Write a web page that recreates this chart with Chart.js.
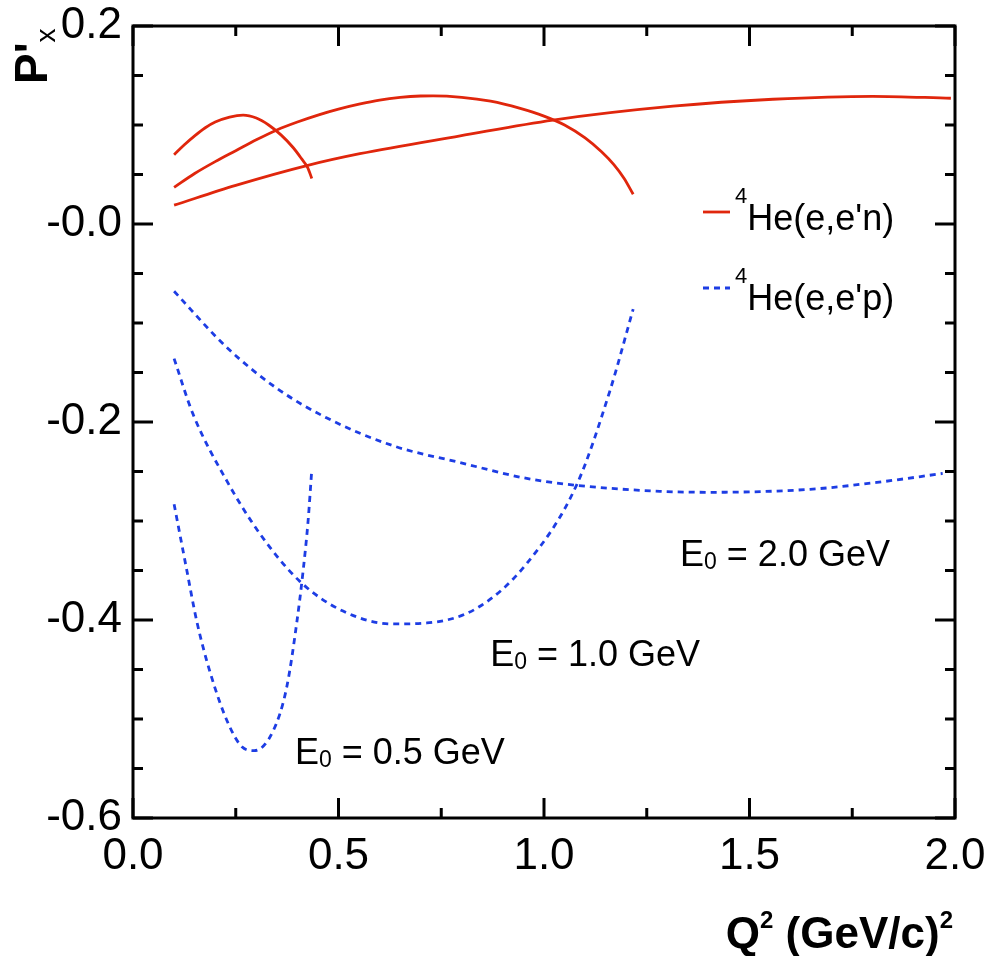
<!DOCTYPE html>
<html>
<head>
<meta charset="utf-8">
<script src="https://cdn.jsdelivr.net/npm/chart.js@4.4.0/dist/chart.umd.min.js"></script>
<style>
  html, body { margin: 0; padding: 0; background: #fff; }
  #wrap { width: 988px; height: 956px; }
</style>
</head>
<body>
<div id="wrap"><canvas id="myChart" width="988" height="956"></canvas></div>
<script>
// values: Q^2 in (GeV/c)^2, P'x
const q2N05 = [0.10, 0.125, 0.15, 0.175, 0.20, 0.235, 0.268, 0.30, 0.33, 0.36, 0.39, 0.41, 0.425, 0.435];
const pxN05 = [0.070, 0.080, 0.089, 0.097, 0.103, 0.108, 0.110, 0.107, 0.100, 0.090, 0.077, 0.066, 0.057, 0.046];

const q2N10 = [0.10, 0.15, 0.20, 0.25, 0.30, 0.35, 0.40, 0.45, 0.50, 0.55, 0.60, 0.65, 0.70, 0.73, 0.80, 0.87, 0.94, 1.00, 1.05, 1.10, 1.14, 1.17, 1.195, 1.217];
const pxN10 = [0.037, 0.051, 0.063, 0.074, 0.085, 0.095, 0.103, 0.110, 0.116, 0.121, 0.1251, 0.1278, 0.1293, 0.1295, 0.128, 0.124, 0.117, 0.109, 0.100, 0.087, 0.073, 0.060, 0.046, 0.030];

const q2N20 = [0.10, 0.25, 0.423, 0.552, 0.796, 1.022, 1.314, 1.557, 1.80, 1.99];
const pxN20 = [0.019, 0.039, 0.059, 0.071, 0.089, 0.105, 0.119, 0.126, 0.129, 0.127];

const q2P05 = [0.10, 0.131, 0.155, 0.187, 0.229, 0.265, 0.295, 0.341, 0.374, 0.399, 0.414, 0.426, 0.435];
const pxP05 = [-0.283, -0.35, -0.401, -0.452, -0.502, -0.528, -0.532, -0.512, -0.468, -0.401, -0.35, -0.30, -0.248];

const q2P10 = [0.10, 0.146, 0.229, 0.309, 0.406, 0.511, 0.633, 0.715, 0.837, 0.958, 1.08, 1.16, 1.217];
const pxP10 = [-0.136, -0.192, -0.26, -0.313, -0.361, -0.391, -0.404, -0.403, -0.388, -0.343, -0.263, -0.169, -0.086];

const q2P20 = [0.10, 0.229, 0.35, 0.472, 0.633, 0.796, 0.958, 1.08, 1.282, 1.404, 1.647, 1.81, 1.97];
const pxP20 = [-0.068, -0.125, -0.166, -0.196, -0.224, -0.241, -0.257, -0.264, -0.270, -0.271, -0.268, -0.261, -0.252];

const energies = ["0.5", "1.0", "2.0"];
const legendLabels = ["He(e,e'n)", "He(e,e'p)"];

const RED = "#e0260c";
const BLUE = "#1d3de4";
const FONT = "'Liberation Sans', Arial, sans-serif";

function pts(xs, ys) {
  return xs.map((x, i) => ({ x: x, y: ys[i] }));
}

function curve(label, xs, ys, color, dashed) {
  return {
    label: label,
    data: pts(xs, ys),
    borderColor: color,
    borderWidth: 2.8,
    borderDash: dashed ? [6, 5] : [],
    pointRadius: 0,
    fill: false,
    cubicInterpolationMode: "monotone",
  };
}

// text with sub/superscripts: parts = [text, font, dy]
function rich(ctx, x, y, parts, align) {
  let w = 0;
  parts.forEach((p) => { ctx.font = p[1]; w += ctx.measureText(p[0]).width; });
  let cx = align === "right" ? x - w : x;
  parts.forEach((p) => {
    ctx.font = p[1];
    ctx.fillText(p[0], cx, y + (p[2] || 0));
    cx += ctx.measureText(p[0]).width;
  });
}

const frame = {
  id: "frame",
  afterDraw(chart) {
    const ctx = chart.ctx;
    const a = chart.chartArea;
    const xs = chart.scales.x, ys = chart.scales.y;
    ctx.save();
    ctx.strokeStyle = "#000";
    ctx.lineWidth = 3;
    ctx.strokeRect(a.left, a.top, a.right - a.left, a.bottom - a.top);

    ctx.beginPath();
    for (let i = 0; i <= 16; i++) {
      const py = ys.getPixelForValue(-0.6 + i * 0.05);
      const len = i % 4 === 0 ? 20 : 10;
      ctx.moveTo(a.left, py); ctx.lineTo(a.left + len, py);
      ctx.moveTo(a.right, py); ctx.lineTo(a.right - len, py);
    }
    for (let i = 0; i <= 8; i++) {
      const px = xs.getPixelForValue(i * 0.25);
      const len = i % 2 === 0 ? 20 : 10;
      ctx.moveTo(px, a.bottom); ctx.lineTo(px, a.bottom - len);
      ctx.moveTo(px, a.top); ctx.lineTo(px, a.top + len);
    }
    ctx.stroke();

    ctx.fillStyle = "#000";
    ctx.textAlign = "left";
    ctx.textBaseline = "alphabetic";

    // x axis title
    rich(ctx, a.right - 2, 948, [
      ["Q", "bold 44px " + FONT],
      ["2", "bold 24px " + FONT, -20],
      [" (GeV/c)", "bold 44px " + FONT],
      ["2", "bold 24px " + FONT, -20],
    ], "right");

    // y axis title (rotated)
    ctx.save();
    ctx.translate(47, 84);
    ctx.rotate(-Math.PI / 2);
    rich(ctx, 0, 0, [
      ["P'", "bold 46px " + FONT],
      ["x", "28px " + FONT, 8],
    ]);
    ctx.restore();

    // legend
    ctx.lineWidth = 2.8;
    ctx.strokeStyle = RED;
    ctx.setLineDash([]);
    ctx.beginPath(); ctx.moveTo(703, 212); ctx.lineTo(730, 212); ctx.stroke();
    ctx.strokeStyle = BLUE;
    ctx.setLineDash([6, 5]);
    ctx.beginPath(); ctx.moveTo(703, 288); ctx.lineTo(730, 288); ctx.stroke();
    ctx.setLineDash([]);
    rich(ctx, 735, 230, [["4", "22px " + FONT, -27], [legendLabels[0], "36px " + FONT]]);
    rich(ctx, 735, 310, [["4", "22px " + FONT, -27], [legendLabels[1], "36px " + FONT]]);

    // beam energy labels, placed in data coordinates
    const notes = [[0.394, -0.545], [0.869, -0.446], [1.331, -0.345]];
    notes.forEach((n, i) => {
      rich(ctx, xs.getPixelForValue(n[0]), ys.getPixelForValue(n[1]), [
        ["E", "36px " + FONT],
        ["0", "23px " + FONT, 3],
        [" = " + energies[i] + " GeV", "36px " + FONT],
      ]);
    });
    ctx.restore();
  },
};

const ctx = document.getElementById("myChart").getContext("2d");

const myChart = new Chart(ctx, {
  type: "line",
  data: {
    datasets: [
      curve("n 0.5", q2N05, pxN05, RED, false),
      curve("n 1.0", q2N10, pxN10, RED, false),
      curve("n 2.0", q2N20, pxN20, RED, false),
      curve("p 0.5", q2P05, pxP05, BLUE, true),
      curve("p 1.0", q2P10, pxP10, BLUE, true),
      curve("p 2.0", q2P20, pxP20, BLUE, true),
    ],
  },
  options: {
    responsive: false,
    animation: false,
    layout: { padding: { left: 0, right: 33, top: 26, bottom: 0 } },
    plugins: {
      legend: { display: false },
      tooltip: { enabled: false },
    },
    scales: {
      x: {
        type: "linear",
        min: 0,
        max: 2,
        grid: { display: false, drawTicks: false },
        border: { display: false },
        ticks: {
          stepSize: 0.5,
          padding: 12,
          color: "#000",
          font: { family: FONT, size: 44 },
          callback: (v) => v.toFixed(1),
        },
        afterFit: (s) => {
          s.height = 138;
          s.paddingLeft = 0;
          s.paddingRight = 0;
        },
      },
      y: {
        type: "linear",
        min: -0.6,
        max: 0.2,
        grid: { display: false, drawTicks: false },
        border: { display: false },
        ticks: {
          stepSize: 0.2,
          padding: 11,
          color: "#000",
          font: { family: FONT, size: 44 },
          callback: (v) => (Math.abs(v) < 1e-9 ? "-0.0" : v.toFixed(1)),
        },
        afterFit: (s) => {
          s.width = 133;
          s.paddingTop = 0;
          s.paddingBottom = 0;
        },
      },
    },
  },
  plugins: [frame],
});
</script>
</body>
</html>
